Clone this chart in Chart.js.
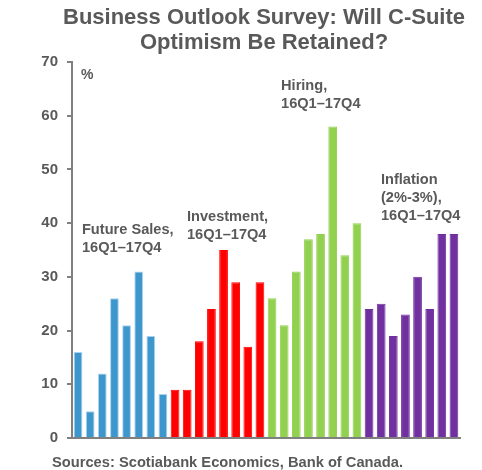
<!DOCTYPE html>
<html>
<head>
<meta charset="utf-8">
<script src="https://cdn.jsdelivr.net/npm/chart.js@4.4.1/dist/chart.umd.min.js"></script>
<style>
  html, body { margin: 0; padding: 0; background: #ffffff; }
  #wrap { width: 482px; height: 470px; position: relative; }
</style>
</head>
<body>
<div id="wrap"><canvas id="bosChart"></canvas></div>
<script>
// Business Outlook Survey balances of opinion, 16Q1-17Q4
const quarters = ['16Q1', '16Q2', '16Q3', '16Q4', '17Q1', '17Q2', '17Q3', '17Q4'];
const futureSales = [16, 5, 12, 26, 21, 31, 19, 8.2];
const investment = [9, 9, 18, 24, 35, 29, 17, 29];
const hiring = [26, 21, 31, 37, 38, 58, 34, 40];
const inflation = [24, 25, 19, 23, 30, 24, 38, 38];
const yTicks = [0, 10, 20, 30, 40, 50, 60, 70];

const groups = [
    { name: ['Future Sales,', '16Q1\u201317Q4'], values: futureSales, color: '#3d96cc', border: '#a8d2ee' },
    { name: ['Investment,', '16Q1\u201317Q4'], values: investment, color: '#ff0000', border: '#ff0000' },
    { name: ['Hiring,', '16Q1\u201317Q4'], values: hiring, color: '#92d050', border: '#92d050' },
    { name: ['Inflation', '(2%-3%),', '16Q1\u201317Q4'], values: inflation, color: '#7030a0', border: '#7030a0' }
];

const labels = groups.flatMap(() => quarters);
const values = groups.flatMap(g => g.values);
const fills = groups.flatMap(g => g.values.map(() => g.color));
const borders = groups.flatMap(g => g.values.map(() => g.border));

const GREY = '#595959';
const FONT = '"Liberation Sans", Arial, sans-serif';

// where each group's caption starts: category position and y value
const captionSpots = [
    { x: 0.32, y: 38.7 },
    { x: 8.98, y: 41.2 },
    { x: 16.74, y: 65.5 },
    { x: 24.98, y: 48.0 }
];

const textPlugin = {
    id: 'chartText',
    afterDraw(chart) {
        const { ctx, scales } = chart;
        ctx.save();
        ctx.fillStyle = GREY;
        ctx.textBaseline = 'middle';

        // title
        ctx.textAlign = 'center';
        ctx.font = 'bold 22px ' + FONT;
        ctx.fillText('Business Outlook Survey: Will C-Suite', 264, 18);
        ctx.fillText('Optimism Be Retained?', 264, 43);

        // unit label
        ctx.textAlign = 'left';
        ctx.font = 'bold 14px ' + FONT;
        ctx.fillText('%', scales.x.left + 9, 75);

        // group captions
        ctx.font = 'bold 14.6px ' + FONT;
        groups.forEach((g, i) => {
            const spot = captionSpots[i];
            const x = scales.x.getPixelForValue(spot.x);
            const y = scales.y.getPixelForValue(spot.y);
            g.name.forEach((line, k) => ctx.fillText(line, x, y + k * 18));
        });

        // source
        ctx.font = 'bold 14.7px ' + FONT;
        ctx.fillText('Sources: Scotiabank Economics, Bank of Canada.', 52, 463);
        ctx.restore();
    }
};

new Chart(document.getElementById('bosChart'), {
    type: 'bar',
    data: {
        labels: labels,
        datasets: [{
            data: values,
            backgroundColor: fills,
            borderColor: borders,
            borderWidth: 1,
            barPercentage: 0.72,
            categoryPercentage: 1.0
        }]
    },
    options: {
        responsive: true,
        maintainAspectRatio: false,
        animation: false,
        layout: { padding: { top: 62, left: 30, right: 22, bottom: 32 } },
        plugins: {
            legend: { display: false },
            tooltip: { enabled: false }
        },
        scales: {
            x: {
                grid: { display: false },
                border: { display: true, color: '#808080', width: 2 },
                ticks: { display: false },
                afterFit: (scale) => { scale.height = 0; }
            },
            y: {
                min: 0,
                max: 70,
                afterBuildTicks: (scale) => { scale.ticks = yTicks.map(v => ({ value: v })); },
                grid: { drawOnChartArea: false, drawTicks: true, tickLength: 5, color: '#808080', lineWidth: 2 },
                border: { display: true, color: '#808080', width: 2 },
                ticks: {
                    color: GREY,
                    padding: 9,
                    font: { family: FONT, weight: 'bold', size: 15 }
                },
                afterFit: (scale) => { scale.width = 42; }
            }
        }
    },
    plugins: [textPlugin]
});
</script>
</body>
</html>
